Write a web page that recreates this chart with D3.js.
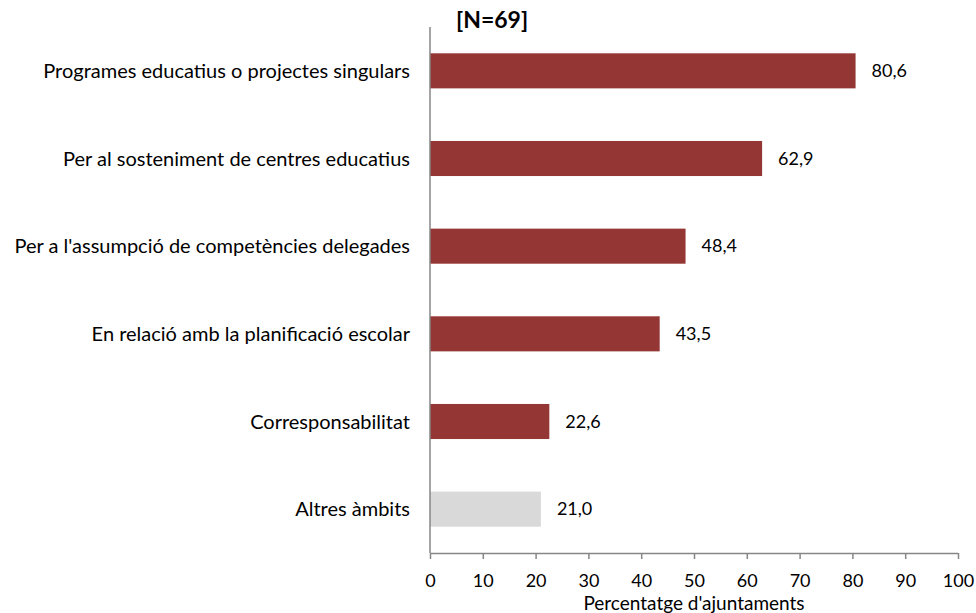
<!DOCTYPE html>
<html><head><meta charset="utf-8">
<script src="https://cdn.jsdelivr.net/npm/d3@7"></script>
<style>body{margin:0;background:#fff}svg{display:block}</style>
</head><body>
<svg id="c" width="976" height="613"></svg>
<script>
const categories = ["Programes educatius o projectes singulars","Per al sosteniment de centres educatius","Per a l'assumpció de competències delegades","En relació amb la planificació escolar","Corresponsabilitat","Altres àmbits"];
const values = [80.6, 62.9, 48.4, 43.5, 22.6, 21.0];
const barColors = ["#943634","#943634","#943634","#943634","#943634","#D9D9D9"];
const tickValues = [0,10,20,30,40,50,60,70,80,90,100];
const title = "[N=69]";
const xTitle = "Percentatge d'ajuntaments";

const svg = d3.select("#c");
const font = "Lato, sans-serif";
const fs = 18;
const x = d3.scaleLinear().domain([0,100]).range([430,958]);
const y = d3.scaleBand().domain(categories).range([27,553]).paddingInner(0.6).paddingOuter(0.3);

svg.selectAll("rect.bar").data(values).enter().append("rect")
  .attr("x", x(0)).attr("y",(d,i)=>y(categories[i]))
  .attr("width", d=>x(d)-x(0)).attr("height", y.bandwidth())
  .attr("fill",(d,i)=>barColors[i]);

svg.selectAll("text.val").data(values).enter().append("text")
  .attr("x", d=>x(d)+16).attr("y",(d,i)=>y(categories[i])+y.bandwidth()/2)
  .attr("dy","0.35em").attr("font-family",font).attr("font-size",fs).attr("fill","#000")
  .text(d=>d.toFixed(1).replace(".",","));

svg.selectAll("text.cat").data(categories).enter().append("text")
  .attr("x", 410).attr("y", d=>y(d)+y.bandwidth()/2).attr("dy","0.35em")
  .attr("text-anchor","end").attr("font-family",font).attr("font-size",20).attr("fill","#000")
  .text(d=>d);

svg.append("line").attr("x1",430).attr("x2",430).attr("y1",27).attr("y2",553)
  .attr("stroke","#868686").attr("stroke-width",1.5);

const xAxis = d3.axisBottom(x).tickValues(tickValues).tickSize(6).tickFormat(d3.format("d"));
const g = svg.append("g").attr("transform","translate(0,553)").call(xAxis);
g.select(".domain").attr("stroke","#868686").attr("stroke-width",1.5).attr("d","M430,0.5H958");
g.selectAll(".tick line").attr("stroke","#868686").attr("stroke-width",1.5);
g.selectAll(".tick text").attr("font-family",font).attr("font-size",fs).attr("fill","#000").attr("y",34).attr("dy",0);

svg.append("text").attr("x",694).attr("y",610).attr("text-anchor","middle")
  .attr("font-family",font).attr("font-size",19).attr("fill","#000").text(xTitle);

svg.append("text").attr("x",456).attr("y",28).attr("font-family",font).attr("font-size",23)
  .attr("font-weight","bold").attr("fill","#000").text(title);
</script>
</body></html>
